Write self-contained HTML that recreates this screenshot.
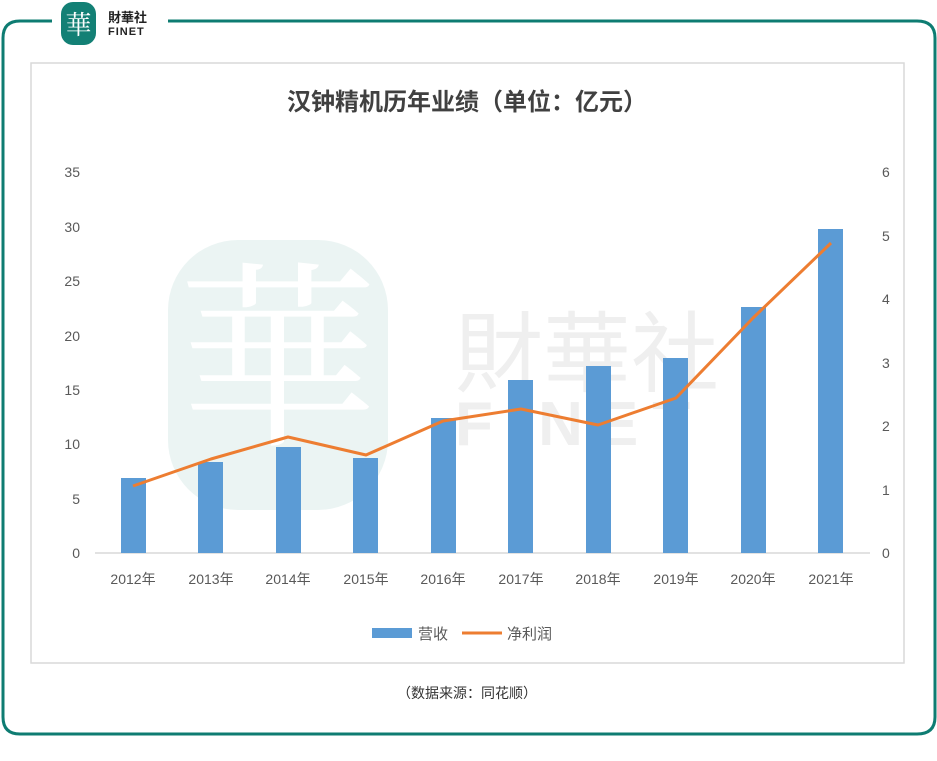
<!DOCTYPE html><html><head><meta charset="utf-8"><style>
body{margin:0;background:#fff;width:937px;height:756px;overflow:hidden;font-family:"Liberation Sans","Noto Sans CJK SC",sans-serif}
</style></head><body>
<svg width="937" height="756" xmlns="http://www.w3.org/2000/svg" font-family="Liberation Sans, Noto Sans CJK SC, sans-serif">
<path d="M52 21 H20 Q3 21 3 38 V717 Q3 734 20 734 H917 Q935 734 935 717 V38 Q935 21 917 21 H168" fill="none" stroke="#0e7c72" stroke-width="3"/>
<rect x="61" y="2" width="35" height="43" rx="12" fill="#138075"/>
<text x="78.5" y="34" font-size="26" fill="#fff" text-anchor="middle" font-family="Noto Serif CJK SC, serif">華</text>
<text x="108" y="22" font-size="13" fill="#222" font-weight="bold">財華社</text>
<text x="108" y="35" font-size="11" fill="#222" font-weight="bold" letter-spacing="1">FINET</text>
<rect x="31" y="63" width="873" height="600" fill="#fff" stroke="#d9d9d9" stroke-width="1.5"/>
<rect x="168" y="240" width="220" height="270" rx="70" fill="#e3f0ee" opacity="0.7"/>
<text x="278" y="430" font-size="200" fill="#fff" text-anchor="middle" font-family="Noto Serif CJK SC, serif">華</text>
<text x="455" y="385" font-size="88" fill="#efefef">財華社</text>
<text x="455" y="445" font-size="62" fill="#efefef" font-weight="bold" letter-spacing="14">FINET</text>
<text x="467" y="110" font-size="24" font-weight="bold" fill="#404040" text-anchor="middle">汉钟精机历年业绩（单位：亿元）</text>
<g font-size="14" fill="#595959">
<g text-anchor="end">
<text x="80" y="558">0</text><text x="80" y="504">5</text><text x="80" y="449">10</text><text x="80" y="395">15</text><text x="80" y="341">20</text><text x="80" y="286">25</text><text x="80" y="232">30</text><text x="80" y="177">35</text>
</g>
<text x="882" y="558">0</text><text x="882" y="495">1</text><text x="882" y="431">2</text><text x="882" y="368">3</text><text x="882" y="304">4</text><text x="882" y="241">5</text><text x="882" y="177">6</text>
</g>
<line x1="95" y1="553" x2="870" y2="553" stroke="#d9d9d9" stroke-width="1.5"/>
<g fill="#5b9bd5">
<rect x="121" y="478" width="25" height="75"/>
<rect x="198" y="462" width="25" height="91"/>
<rect x="276" y="447" width="25" height="106"/>
<rect x="353" y="458" width="25" height="95"/>
<rect x="431" y="418" width="25" height="135"/>
<rect x="508" y="380" width="25" height="173"/>
<rect x="586" y="366" width="25" height="187"/>
<rect x="663" y="358" width="25" height="195"/>
<rect x="741" y="307" width="25" height="246"/>
<rect x="818" y="229" width="25" height="324"/>
</g>
<polyline points="133,486 211,459 288,437 366,455 443,421 521,409 598,425 676,398 753,318 831,243" fill="none" stroke="#ed7d31" stroke-width="3" stroke-linejoin="round"/>
<g font-size="14" fill="#595959" text-anchor="middle">
<text x="133" y="584">2012年</text><text x="211" y="584">2013年</text><text x="288" y="584">2014年</text><text x="366" y="584">2015年</text><text x="443" y="584">2016年</text><text x="521" y="584">2017年</text><text x="598" y="584">2018年</text><text x="676" y="584">2019年</text><text x="753" y="584">2020年</text><text x="831" y="584">2021年</text>
</g>
<rect x="372" y="628" width="40" height="10" fill="#5b9bd5"/>
<text x="418" y="639" font-size="15" fill="#595959">营收</text>
<line x1="462" y1="633" x2="502" y2="633" stroke="#ed7d31" stroke-width="3"/>
<text x="507" y="639" font-size="15" fill="#595959">净利润</text>
<text x="467" y="698" font-size="14" fill="#333" text-anchor="middle">（数据来源：同花顺）</text>
</svg>
</body></html>
